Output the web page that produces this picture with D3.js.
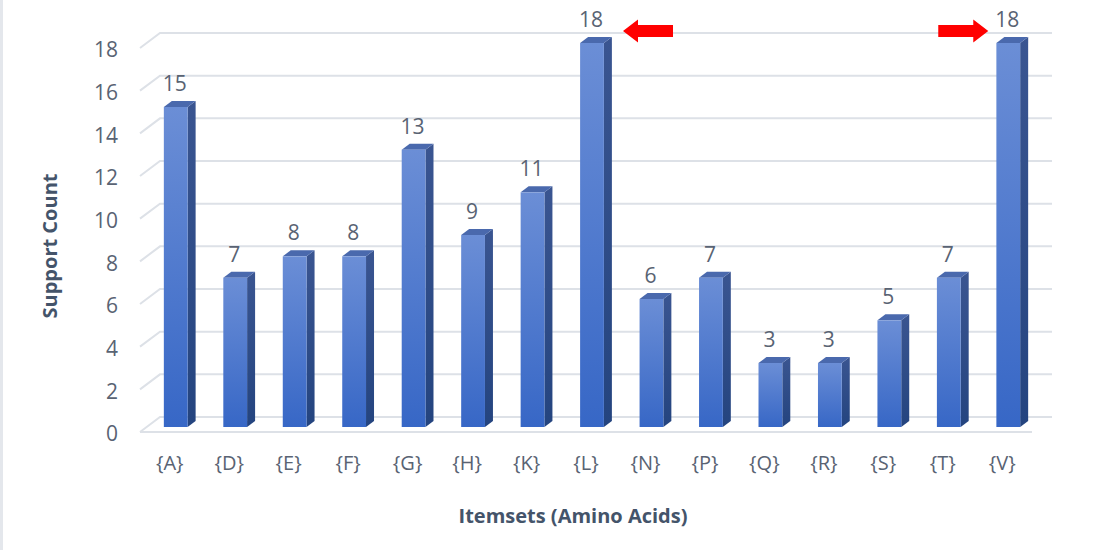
<!DOCTYPE html>
<html>
<head>
<meta charset="utf-8">
<script src="https://cdn.jsdelivr.net/npm/d3@7"></script>
<style>
  html, body { margin: 0; padding: 0; background: #fff; }
  svg { display: block; font-family: "Open Sans", "DejaVu Sans", sans-serif; }
</style>
</head>
<body>
<svg id="chart" width="1102" height="550"></svg>
<script>
// Support count of each single-amino-acid itemset
const categories = ["{A}", "{D}", "{E}", "{F}", "{G}", "{H}", "{K}", "{L}", "{N}", "{P}", "{Q}", "{R}", "{S}", "{T}", "{V}"];
const supportCounts = [15, 7, 8, 8, 13, 9, 11, 18, 6, 7, 3, 3, 5, 7, 18];
const yTicks = [0, 2, 4, 6, 8, 10, 12, 14, 16, 18];
// Highlight arrows pointing at the most frequent itemsets
const highlighted = [{ cat: "{L}", dir: "left" }, { cat: "{V}", dir: "right" }];

const svg = d3.select("#chart");
const W = 1102, H = 550;
const plot = { left: 140, right: 1032, top: 48, bottom: 432 };
const depth = { dx: 20, dy: -15 };       // back wall offset
const barOff = { dx: 6, dy: -5 };        // bar front face offset into the depth
const barDepth = { dx: 8, dy: -6 };      // bar thickness

const x = d3.scaleBand().domain(categories).range([plot.left, plot.right])
  .paddingInner(0.6).paddingOuter(0.3);
const y = d3.scaleLinear().domain([0, 18]).range([plot.bottom, plot.top]);
const bw = x.bandwidth();

// thin frame strip on the left edge
svg.append("rect").attr("x", 0).attr("y", 0).attr("width", 3).attr("height", H).attr("fill", "#e4e7ec");

// gradients
const defs = svg.append("defs");
const gFront = defs.append("linearGradient").attr("id", "front").attr("x1", 0).attr("y1", 0).attr("x2", 0).attr("y2", 1);
gFront.append("stop").attr("offset", "0%").attr("stop-color", "#6b8ed6");
gFront.append("stop").attr("offset", "100%").attr("stop-color", "#3767c6");
const gSide = defs.append("linearGradient").attr("id", "side").attr("x1", 0).attr("y1", 0).attr("x2", 0).attr("y2", 1);
gSide.append("stop").attr("offset", "0%").attr("stop-color", "#3a5591");
gSide.append("stop").attr("offset", "100%").attr("stop-color", "#24447f");

// gridlines: back wall lines plus the short diagonal on the left wall
const grid = svg.append("g").attr("stroke", "#dde1e7").attr("stroke-width", 2).attr("fill", "none");
yTicks.forEach(t => {
  const yf = y(t), yb = y(t) + depth.dy;
  grid.append("path").attr("d", `M${plot.left},${yf}L${plot.left + depth.dx},${yb}L${plot.right + depth.dx},${yb}`);
});
// front edge of the floor
grid.append("line").attr("x1", plot.left).attr("x2", plot.right).attr("y1", y(0)).attr("y2", y(0));

// y axis labels
const yAxis = d3.axisLeft(y).tickValues(yTicks).tickSize(0).tickPadding(22);
const ya = svg.append("g").attr("transform", `translate(${plot.left},2)`).call(yAxis);
ya.select(".domain").remove();
ya.selectAll("text").attr("font-size", 21).attr("fill", "#596373").attr("font-family", "Open Sans");

// x axis labels
const xAxis = d3.axisBottom(x).tickSize(0).tickPadding(0);
const xa = svg.append("g").attr("transform", `translate(0,${y(0) + 31})`).call(xAxis);
xa.select(".domain").remove();
xa.selectAll("text").attr("dy", "0.35em").attr("font-size", 20).attr("fill", "#596373").attr("font-family", "Open Sans");

// 3D bars
const bars = svg.append("g").selectAll("g").data(categories.map((c, i) => ({ c, v: supportCounts[i] })))
  .join("g");
bars.each(function (d) {
  const g = d3.select(this);
  const x0 = x(d.c) + barOff.dx, x1 = x0 + bw;
  const top = y(d.v) + barOff.dy, bot = y(0) + barOff.dy;
  g.append("polygon")
    .attr("points", [[x1, top], [x1 + barDepth.dx, top + barDepth.dy], [x1 + barDepth.dx, bot + barDepth.dy], [x1, bot]].join(" "))
    .attr("fill", "url(#side)");
  g.append("polygon")
    .attr("points", [[x0, top], [x0 + barDepth.dx, top + barDepth.dy], [x1 + barDepth.dx, top + barDepth.dy], [x1, top]].join(" "))
    .attr("fill", "#4a69ad");
  g.append("rect").attr("x", x0).attr("y", top).attr("width", bw).attr("height", bot - top)
    .attr("fill", "url(#front)");
  g.append("text")
    .attr("x", x(d.c) + bw / 2 + 5).attr("y", y(d.v) - 21)
    .attr("text-anchor", "middle").attr("font-size", 21).attr("fill", "#596373")
    .text(d.v);
});

// red arrows next to the highest bars
highlighted.forEach(h => {
  const i = categories.indexOf(h.cat);
  const cx = x(h.cat) + bw / 2 + 5;
  const cy = y(supportCounts[i]) - 17;
  const headL = 15, headH = 11.5, bodyH = 6, bodyL = 35;
  let pts;
  if (h.dir === "left") {
    const tip = cx + 32;
    pts = [[tip, cy], [tip + headL, cy - headH], [tip + headL, cy - bodyH], [tip + headL + bodyL, cy - bodyH],
           [tip + headL + bodyL, cy + bodyH], [tip + headL, cy + bodyH], [tip + headL, cy + headH]];
  } else {
    const tip = cx - 19;
    pts = [[tip, cy], [tip - headL, cy - headH], [tip - headL, cy - bodyH], [tip - headL - bodyL, cy - bodyH],
           [tip - headL - bodyL, cy + bodyH], [tip - headL, cy + bodyH], [tip - headL, cy + headH]];
  }
  svg.append("polygon").attr("points", pts.join(" ")).attr("fill", "#ff0000");
});

// axis titles
svg.append("text")
  .attr("transform", `translate(57,${246}) rotate(-90)`)
  .attr("text-anchor", "middle").attr("font-size", 20).attr("font-weight", "bold").attr("fill", "#44546a")
  .text("Support Count");
svg.append("text")
  .attr("x", 573).attr("y", 523)
  .attr("text-anchor", "middle").attr("font-size", 20).attr("font-weight", "bold").attr("fill", "#44546a")
  .text("Itemsets (Amino Acids)");
</script>
</body>
</html>
